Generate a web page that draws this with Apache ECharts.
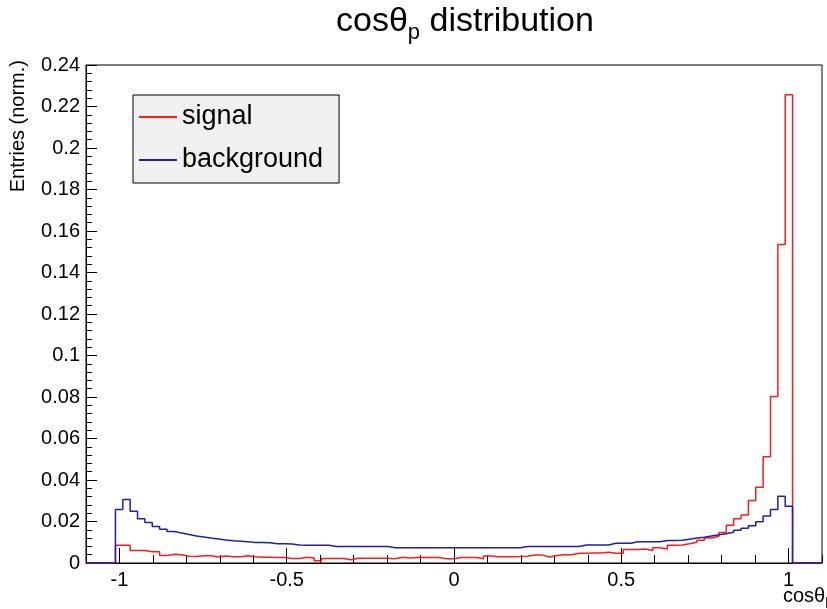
<!DOCTYPE html>
<html><head><meta charset="utf-8">
<script src="https://cdn.jsdelivr.net/npm/echarts@6/dist/echarts.min.js"></script>
<style>html,body{margin:0;padding:0;background:#fff}#c{width:827px;height:609px}</style>
</head><body><div id="c"></div><script>
// Histogram binning: 100 bins over [-1.1, 1.1]
const histMin = -1.1;
const histMax = 1.1;

// Normalised entries per bin (signal = red, background = blue)
const signal = [
  0, 0, 0, 0,
  0.0086, 0.0086, 0.0060, 0.0060, 0.0054, 0.0054, 0.0036, 0.0042, 0.0040, 0.0033,
  0.0031, 0.0035, 0.0035, 0.0029, 0.0034, 0.0030, 0.0030, 0.0035, 0.0030, 0.0028,
  0.0028, 0.0027, 0.0027, 0.0022, 0.0022, 0.0028, 0.0024, 0.0011, 0.0022, 0.0022,
  0.0022, 0.0016, 0.0023, 0.0023, 0.0023, 0.0023, 0.0023, 0.0021, 0.0028, 0.0024,
  0.0026, 0.0026, 0.0026, 0.0026, 0.0021, 0.0021, 0.0026, 0.0026, 0.0026, 0.0021,
  0.0034, 0.0030, 0.0030, 0.0030, 0.0031, 0.0033, 0.0038, 0.0038, 0.0029, 0.0036,
  0.0040, 0.0040, 0.0047, 0.0047, 0.0048, 0.0048, 0.0052, 0.0047, 0.0047, 0.0065,
  0.0065, 0.0067, 0.0060, 0.0073, 0.0067, 0.0086, 0.0087, 0.0093, 0.0100, 0.0110,
  0.0120, 0.0129, 0.0147, 0.0182, 0.0213, 0.0231, 0.0301, 0.0365, 0.0512, 0.0803,
  0.1535, 0.2257,
  0, 0, 0, 0
];
const background = [
  0, 0, 0, 0,
  0.0258, 0.0306, 0.0250, 0.0213, 0.0195, 0.0176, 0.0163, 0.0152, 0.0145, 0.0137,
  0.0130, 0.0125, 0.0120, 0.0116, 0.0111, 0.0107, 0.0105, 0.0103, 0.0099, 0.0099,
  0.0098, 0.0093, 0.0093, 0.0092, 0.0087, 0.0086, 0.0086, 0.0086, 0.0085, 0.0080,
  0.0080, 0.0080, 0.0080, 0.0080, 0.0080, 0.0080, 0.0079, 0.0074, 0.0074, 0.0074,
  0.0074, 0.0074, 0.0074, 0.0074, 0.0074, 0.0074, 0.0074, 0.0074, 0.0074, 0.0074,
  0.0074, 0.0074, 0.0074, 0.0074, 0.0074, 0.0080, 0.0080, 0.0080, 0.0080, 0.0080,
  0.0080, 0.0080, 0.0080, 0.0087, 0.0087, 0.0087, 0.0087, 0.0095, 0.0095, 0.0095,
  0.0102, 0.0102, 0.0102, 0.0102, 0.0108, 0.0109, 0.0110, 0.0115, 0.0120, 0.0124,
  0.0130, 0.0136, 0.0141, 0.0148, 0.0158, 0.0168, 0.0180, 0.0199, 0.0226, 0.0258,
  0.0322, 0.0274,
  0, 0, 0, 0
];

const xMajorTicks = [-1, -0.5, 0, 0.5, 1];
const yTickStep = 0.02;
const yMax = 0.24;

const FONT = 'Liberation Sans, Arial, Helvetica, sans-serif';

function stepPoints(values) {
  const n = values.length;
  const w = (histMax - histMin) / n;
  const pts = [];
  for (let k = 0; k < n; k++) {
    pts.push([histMin + k * w, values[k]]);
    pts.push([histMin + (k + 1) * w, values[k]]);
  }
  return pts;
}

const chart = echarts.init(document.getElementById('c'), null, {renderer: 'canvas'});
chart.setOption({
  animation: false,
  backgroundColor: '#ffffff',
  title: {
    text: '{a|cos\u03b8}{s|p}{a| distribution}',
    left: 336, top: 0, padding: 0,
    textStyle: {
      fontWeight: 'normal',
      rich: {
        a: {fontSize: 34, fontFamily: FONT, fontWeight: 'normal', color: '#000', lineHeight: 44},
        s: {fontSize: 22, fontFamily: FONT, fontWeight: 'normal', color: '#000', lineHeight: 22, verticalAlign: 'bottom'}
      }
    }
  },
  legend: {
    orient: 'vertical',
    left: 133, top: 95,
    padding: [7, 16, 8, 6],
    backgroundColor: '#f0f0f0',
    borderColor: '#000', borderWidth: 1, borderRadius: 0,
    itemWidth: 38, itemHeight: 2, itemGap: 13,
    textStyle: {fontSize: 27, fontFamily: FONT, color: '#000', lineHeight: 30},
    data: [{name: 'signal', icon: 'rect'}, {name: 'background', icon: 'rect'}]
  },
  grid: {left: 86, right: 5, top: 65, bottom: 46, show: true, borderColor: '#000', borderWidth: 1, backgroundColor: 'transparent'},
  xAxis: [{
    type: 'value', min: histMin, max: histMax, interval: 0.1,
    axisLine: {show: true, onZero: false, lineStyle: {color: '#000', width: 1}},
    axisTick: {show: true, inside: true, length: 8, lineStyle: {color: '#000', width: 1}},
    axisLabel: {
      customValues: xMajorTicks,
      fontSize: 20, fontFamily: FONT, color: '#000', margin: 7
    },
    splitLine: {show: false}
  }, {
    type: 'value', min: histMin, max: histMax, position: 'bottom',
    axisLine: {show: false, onZero: false},
    axisTick: {show: true, inside: true, length: 15, customValues: xMajorTicks, lineStyle: {color: '#000', width: 1}},
    axisLabel: {show: false},
    splitLine: {show: false}
  }],
  yAxis: {
    type: 'value', min: 0, max: yMax, interval: yTickStep, position: 'left',
    axisLine: {show: true, onZero: false, lineStyle: {color: '#000', width: 1}},
    axisTick: {show: true, inside: true, length: 11, lineStyle: {color: '#000', width: 1}},
    minorTick: {show: true, splitNumber: 5, length: 6, lineStyle: {color: '#000', width: 1}},
    axisLabel: {fontSize: 20, fontFamily: FONT, color: '#000', margin: 6},
    splitLine: {show: false},
    minorSplitLine: {show: false}
  },
  graphic: [{
    type: 'text',
    x: 18, y: 60,
    rotation: Math.PI / 2,
    style: {text: 'Entries (norm.)', font: '20px ' + FONT, fill: '#000', align: 'right', verticalAlign: 'middle'}
  }, {
    type: 'text',
    left: 783, top: 586,
    style: {
      text: '{a|cos\u03b8}{s|p}',
      rich: {
        a: {fontSize: 20, fontFamily: FONT, fill: '#000', lineHeight: 24},
        s: {fontSize: 14, fontFamily: FONT, fill: '#000', lineHeight: 14, verticalAlign: 'bottom'}
      }
    }
  }],
  series: [{
    name: 'signal', type: 'line', xAxisIndex: 0,
    data: stepPoints(signal),
    showSymbol: false, symbol: 'none',
    lineStyle: {color: '#ff1a1a', width: 1.5},
    itemStyle: {color: '#ff1a1a'},
    z: 2
  }, {
    name: 'background', type: 'line', xAxisIndex: 0,
    data: stepPoints(background),
    showSymbol: false, symbol: 'none',
    lineStyle: {color: '#1f1fa8', width: 1.5},
    itemStyle: {color: '#1f1fa8'},
    z: 3
  }]
});
</script></body></html>
